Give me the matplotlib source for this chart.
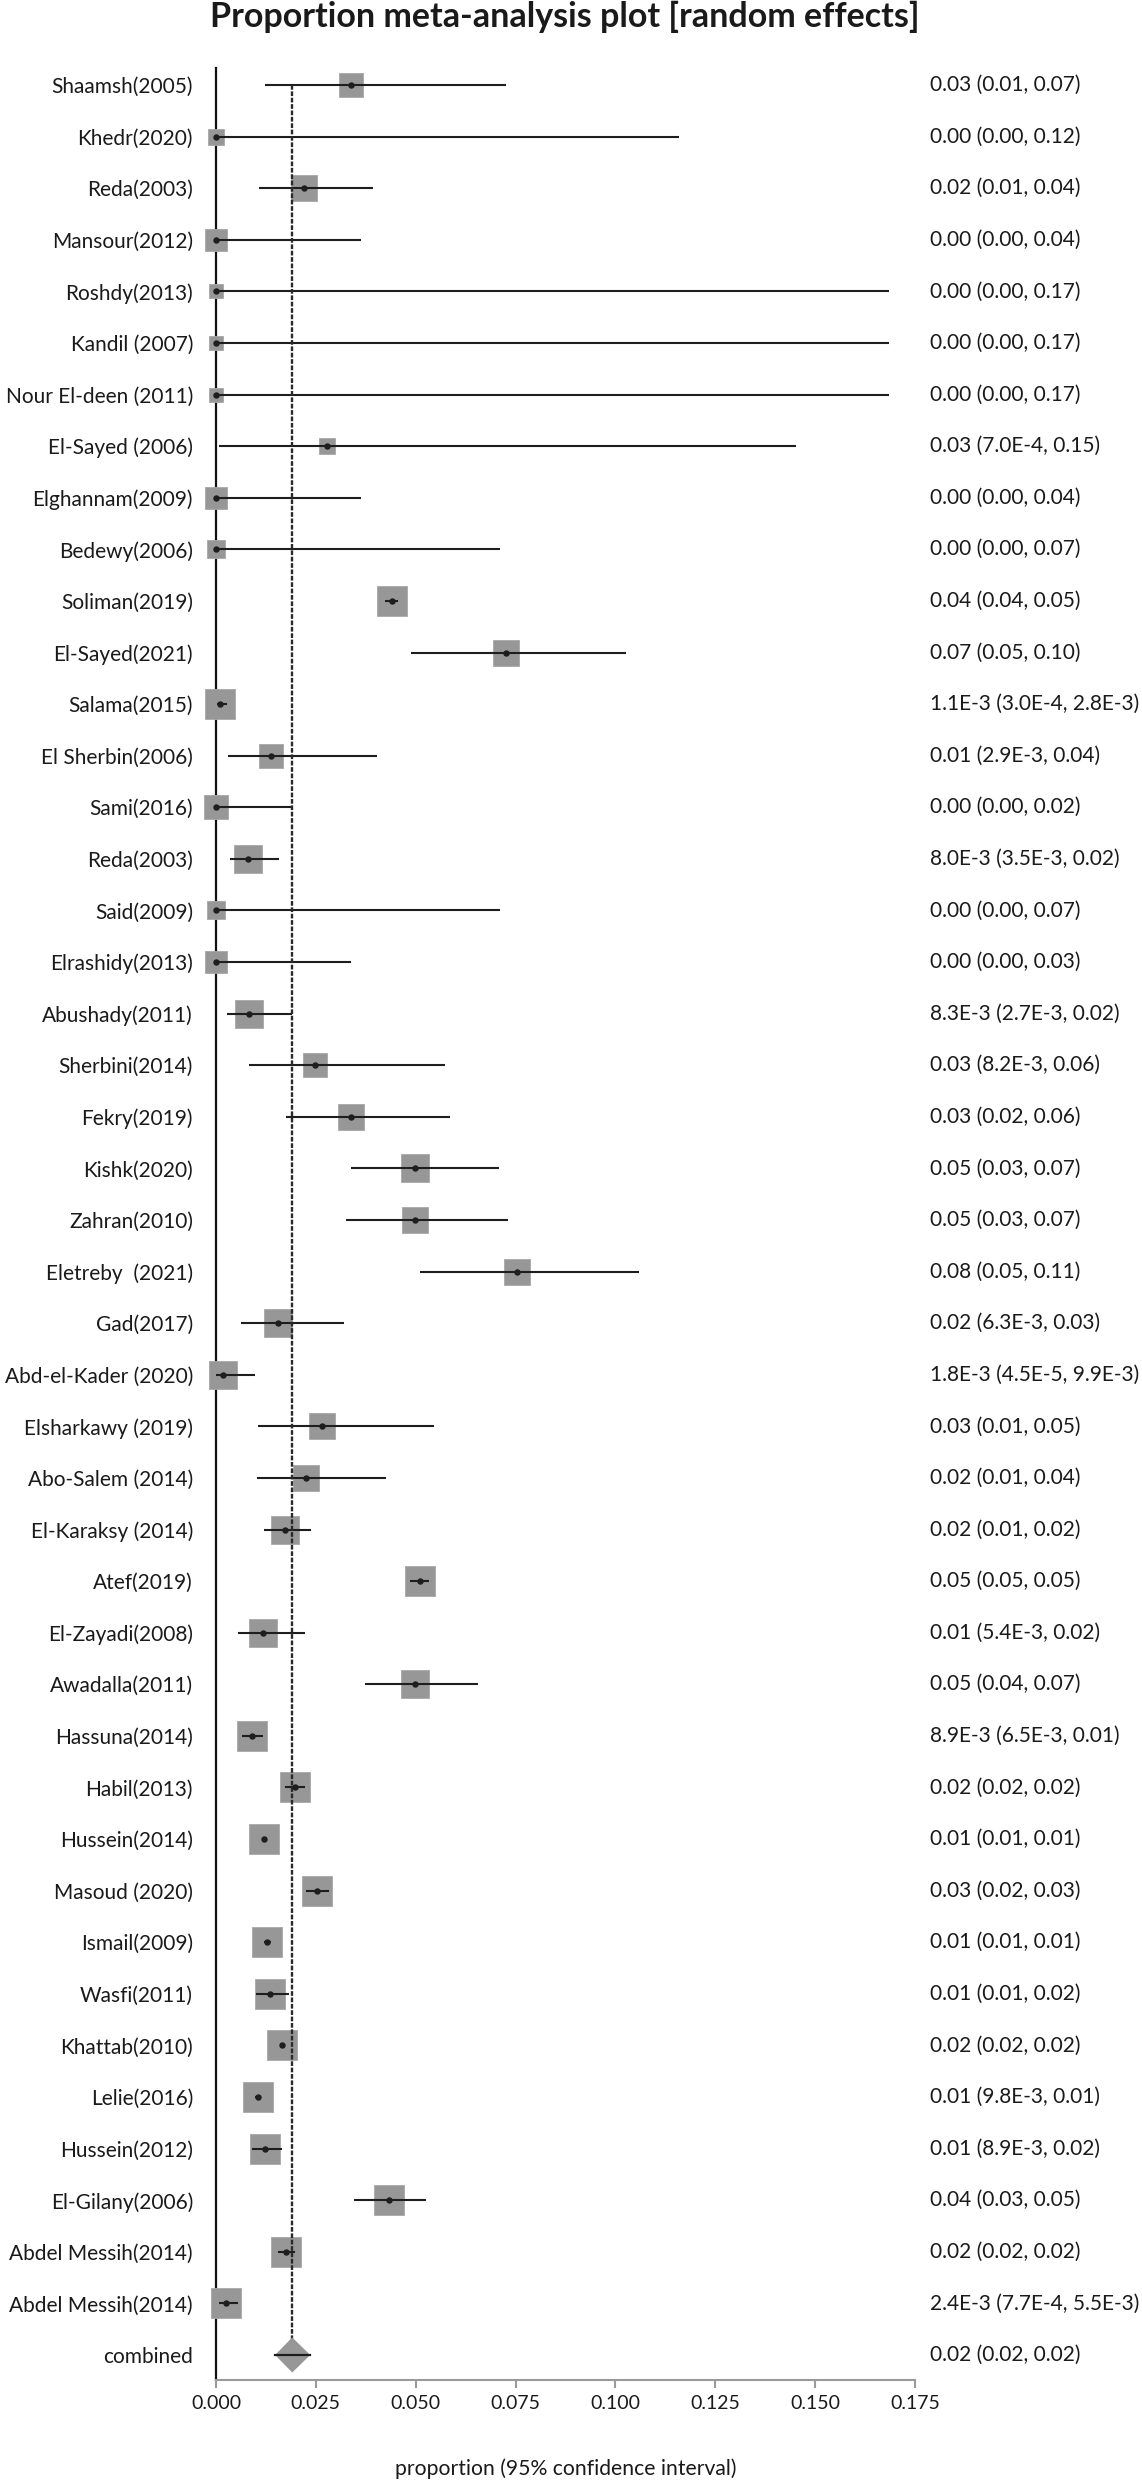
import numpy as np
import matplotlib
matplotlib.use("Agg")
import matplotlib.pyplot as plt
from matplotlib.transforms import blended_transform_factory

plt.rcParams["font.family"] = ["Lato", "DejaVu Sans"]

# study data
studies = ["Shaamsh(2005)", "Khedr(2020)", "Reda(2003)", "Mansour(2012)", "Roshdy(2013)",
           "Kandil (2007)", "Nour El-deen (2011)", "El-Sayed (2006)", "Elghannam(2009)",
           "Bedewy(2006)", "Soliman(2019)", "El-Sayed(2021)", "Salama(2015)", "El Sherbin(2006)",
           "Sami(2016)", "Reda(2003)", "Said(2009)", "Elrashidy(2013)", "Abushady(2011)",
           "Sherbini(2014)", "Fekry(2019)", "Kishk(2020)", "Zahran(2010)", "Eletreby  (2021)",
           "Gad(2017)", "Abd-el-Kader (2020)", "Elsharkawy (2019)", "Abo-Salem (2014)",
           "El-Karaksy (2014)", "Atef(2019)", "El-Zayadi(2008)", "Awadalla(2011)", "Hassuna(2014)",
           "Habil(2013)", "Hussein(2014)", "Masoud (2020)", "Ismail(2009)", "Wasfi(2011)",
           "Khattab(2010)", "Lelie(2016)", "Hussein(2012)", "El-Gilany(2006)",
           "Abdel Messih(2014)", "Abdel Messih(2014)"]

est = [0.0338, 0.0, 0.0220, 0.0, 0.0, 0.0, 0.0, 0.0277, 0.0, 0.0, 0.0440, 0.0725, 0.0011,
       0.0138, 0.0, 0.0080, 0.0, 0.0, 0.0083, 0.0249, 0.0338, 0.0498, 0.0498, 0.0753, 0.0156,
       0.0018, 0.0266, 0.0226, 0.0174, 0.0510, 0.0119, 0.0498, 0.0089, 0.0197, 0.0121, 0.0254,
       0.0128, 0.0136, 0.0165, 0.0105, 0.0122, 0.0432, 0.0176, 0.0024]
lower = [0.0124, 0.0, 0.0108, 0.0, 0.0, 0.0, 0.0, 0.0007, 0.0, 0.0, 0.0422, 0.0489, 0.0003,
         0.0029, 0.0, 0.0035, 0.0, 0.0, 0.0027, 0.0082, 0.0175, 0.0338, 0.0325, 0.0512, 0.0063,
         0.00005, 0.0106, 0.0102, 0.0121, 0.0486, 0.0054, 0.0373, 0.0065, 0.0173, 0.0118, 0.0226,
         0.0120, 0.0101, 0.0161, 0.0098, 0.0089, 0.0346, 0.0155, 0.00077]
upper = [0.0727, 0.1159, 0.0392, 0.0364, 0.1686, 0.1686, 0.1686, 0.1453, 0.0364, 0.0710,
         0.0456, 0.1026, 0.0028, 0.0402, 0.0191, 0.0157, 0.0710, 0.0339, 0.0191, 0.0574, 0.0586,
         0.0708, 0.0731, 0.1058, 0.0320, 0.0099, 0.0545, 0.0426, 0.0239, 0.0534, 0.0224, 0.0655,
         0.0117, 0.0224, 0.0124, 0.0284, 0.0137, 0.0183, 0.0169, 0.0112, 0.0166, 0.0525, 0.0198,
         0.0055]
# relative study weights (box side, % of largest)
weights = [77, 52, 87, 70, 47, 47, 47, 55, 70, 58, 100, 86, 95, 80, 77, 92, 59, 70, 89, 78,
           83, 90, 87, 87, 90, 89, 82, 87, 94, 98, 90, 92, 98, 98, 98, 96, 98, 98, 98, 98, 95,
           95, 96, 96]
ci_text = ["0.03 (0.01, 0.07)", "0.00 (0.00, 0.12)", "0.02 (0.01, 0.04)", "0.00 (0.00, 0.04)",
           "0.00 (0.00, 0.17)", "0.00 (0.00, 0.17)", "0.00 (0.00, 0.17)", "0.03 (7.0E-4, 0.15)",
           "0.00 (0.00, 0.04)", "0.00 (0.00, 0.07)", "0.04 (0.04, 0.05)", "0.07 (0.05, 0.10)",
           "1.1E-3 (3.0E-4, 2.8E-3)", "0.01 (2.9E-3, 0.04)", "0.00 (0.00, 0.02)",
           "8.0E-3 (3.5E-3, 0.02)", "0.00 (0.00, 0.07)", "0.00 (0.00, 0.03)",
           "8.3E-3 (2.7E-3, 0.02)", "0.03 (8.2E-3, 0.06)", "0.03 (0.02, 0.06)",
           "0.05 (0.03, 0.07)", "0.05 (0.03, 0.07)", "0.08 (0.05, 0.11)", "0.02 (6.3E-3, 0.03)",
           "1.8E-3 (4.5E-5, 9.9E-3)", "0.03 (0.01, 0.05)", "0.02 (0.01, 0.04)",
           "0.02 (0.01, 0.02)", "0.05 (0.05, 0.05)", "0.01 (5.4E-3, 0.02)", "0.05 (0.04, 0.07)",
           "8.9E-3 (6.5E-3, 0.01)", "0.02 (0.02, 0.02)", "0.01 (0.01, 0.01)", "0.03 (0.02, 0.03)",
           "0.01 (0.01, 0.01)", "0.01 (0.01, 0.02)", "0.02 (0.02, 0.02)", "0.01 (9.8E-3, 0.01)",
           "0.01 (8.9E-3, 0.02)", "0.04 (0.03, 0.05)", "0.02 (0.02, 0.02)",
           "2.4E-3 (7.7E-4, 5.5E-3)"]

combined_est, combined_lo, combined_hi = 0.0191, 0.0148, 0.0236
combined_text = "0.02 (0.02, 0.02)"

xticks = [0.0, 0.025, 0.05, 0.075, 0.1, 0.125, 0.15, 0.175]

box_color = "#979797"
line_color = "#1e1e1e"
text_color = "#1a1a1a"
max_box = 22.0  # points

fig = plt.figure(figsize=(11.42, 24.8), dpi=100)
ax = fig.add_axes([0.1891, 0.04032, 0.6121, 0.93226])

n = len(studies)
ypos = np.arange(n)

for i in range(n):
    ax.plot([lower[i], upper[i]], [ypos[i], ypos[i]], color=line_color, lw=1.5, zorder=3,
            solid_capstyle="butt")
    ax.plot(est[i], ypos[i], marker="s", ms=max_box * weights[i] / 100.0, mfc=box_color,
            mec="#a8a8a8", mew=0.6, ls="none", zorder=2, clip_on=False)
    ax.plot(est[i], ypos[i], marker="o", ms=3.6, color=line_color, ls="none", zorder=4,
            clip_on=False)

# combined estimate
yc = n
h = 0.34
ax.fill([combined_lo, combined_est, combined_hi, combined_est], [yc, yc - h, yc, yc + h],
        color=box_color, zorder=5, lw=0)
ax.plot([combined_lo, combined_hi], [yc, yc], color=line_color, lw=1.6, zorder=6)
ax.vlines(combined_est, 0, yc, colors="#2a2a2a", linestyles=(0, (2.0, 0.7)), lw=1.7, zorder=3.5)

ax.set_xlim(0, 0.175)
ax.set_ylim(n + 0.485, -0.33)
ax.set_xticks(xticks)
ax.set_xticklabels(["%.3f" % t for t in xticks])
ax.set_yticks(list(ypos) + [yc])
ax.set_yticklabels(studies + ["combined"])

ax.tick_params(axis="y", length=0, pad=16.5, labelsize=15, labelcolor=text_color)
ax.tick_params(axis="x", length=6, width=1.5, color="#9a9a9a", pad=5, labelsize=14,
               labelcolor=text_color)
for side in ["top", "right"]:
    ax.spines[side].set_visible(False)
ax.spines["left"].set_color("#111111")
ax.spines["left"].set_linewidth(1.6)
ax.spines["left"].set_zorder(1)
ax.spines["bottom"].set_color("#9a9a9a")
ax.spines["bottom"].set_linewidth(1.5)

tr = blended_transform_factory(fig.transFigure, ax.transData)
for i in range(n):
    ax.text(0.8144, ypos[i], ci_text[i], transform=tr, ha="left", va="center", fontsize=15,
            color=text_color)
ax.text(0.8144, yc, combined_text, transform=tr, ha="left", va="center", fontsize=15,
        color=text_color)

fig.text(0.4947, 1 - 17 / 2480, "Proportion meta-analysis plot [random effects]",
         ha="center", va="center", fontsize=24.5, fontweight="bold", color=text_color)
fig.text(0.4956, 1 - 2469 / 2480, "proportion (95% confidence interval)", ha="center",
         va="center", fontsize=15.2, color=text_color)

fig.savefig("out.png", dpi=100)
